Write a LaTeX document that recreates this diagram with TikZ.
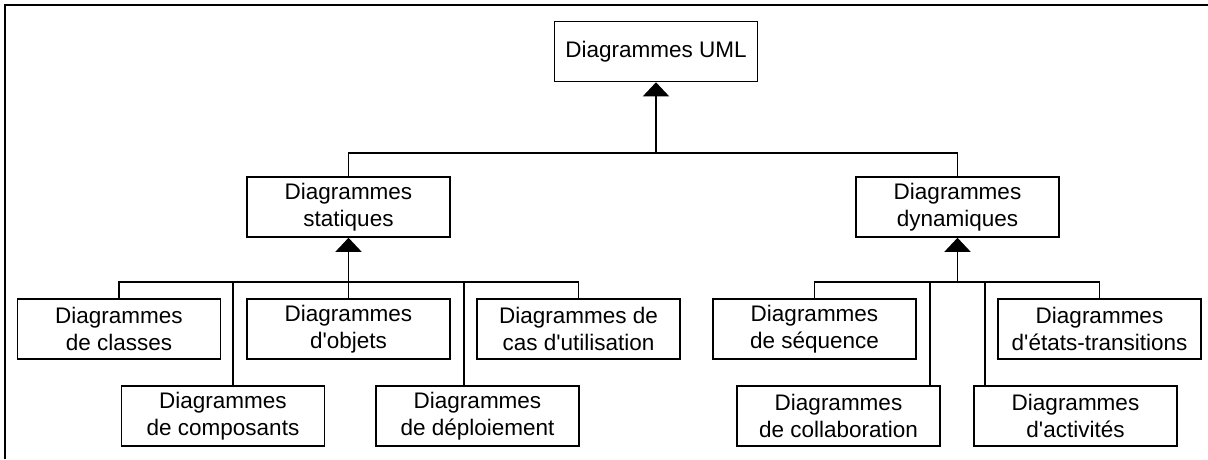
\documentclass[tikz,border=0pt]{standalone}
\usepackage{fontspec}
\setmainfont{Liberation Sans}
\usetikzlibrary{arrows.meta}

\newcommand{\ap}{\textquotesingle}

\begin{document}
\begin{tikzpicture}[x=1pt,y=-1pt,
        diag/.style={rectangle,draw,line width=1.6pt,minimum width=203pt,
            minimum height=60pt,inner sep=0pt,align=center,
            font=\fontsize{22.5}{27}\selectfont},
        link/.style={line width=1.6pt},
        gen/.style={link,-{Triangle[width=26pt,length=14pt]}}]

    \useasboundingbox (0,0) rectangle (1208,459);
    \draw[line width=2pt] (5,459) -- (5,5) -- (1208,5);

    % top level
    \node[diag] (uml) at (656,51.5) {Diagrammes UML};
    \node[diag] (sta) at (348.5,207) {Diagrammes\\statiques};
    \node[diag] (dyn) at (957.5,207) {Diagrammes\\dynamiques};

    % static diagrams
    \node[diag] (cls) at (119,329) {Diagrammes\\de classes};
    \node[diag] (obj) at (348.5,329) {Diagrammes\\d\ap objets};
    \node[diag] (cas) at (578.5,329) {Diagrammes de\\cas d\ap utilisation};
    \node[diag] (cmp) at (223,416) {Diagrammes\\de composants};
    \node[diag] (dep) at (477.5,416) {Diagrammes\\de d\'eploiement};

    % dynamic diagrams
    \node[diag] (seq) at (814.5,329) {Diagrammes\\de s\'equence};
    \node[diag] (eta) at (1099.5,329) {Diagrammes\\d\ap \'etats-transitions};
    \node[diag] (col) at (838.5,416) {Diagrammes\\de collaboration};
    \node[diag] (act) at (1075.5,416) {Diagrammes\\d\ap activit\'es};

    % bus points
    \coordinate (jU) at (656,153);
    \coordinate (jS) at (348.5,282);
    \coordinate (jD) at (957.5,282);
    \coordinate (jCmp) at (233,282);
    \coordinate (jDep) at (464,282);
    \coordinate (jCol) at (930,282);
    \coordinate (jAct) at (985,282);

    \draw[link] (sta.north) |- (jU) -| (dyn.north);
    \draw[gen] (jU) -- (uml.south);

    \draw[link] (cls.north) |- (jS) -| (cas.north);
    \draw[link] (jCmp) -- (jCmp |- cmp.north);
    \draw[link] (jDep) -- (jDep |- dep.north);
    \draw[gen] (obj.north) -- (sta.south);

    \draw[link] (seq.north) |- (jD) -| (eta.north);
    \draw[link] (jCol) -- (jCol |- col.north);
    \draw[link] (jAct) -- (jAct |- act.north);
    \draw[gen] (jD) -- (dyn.south);
\end{tikzpicture}
\end{document}
